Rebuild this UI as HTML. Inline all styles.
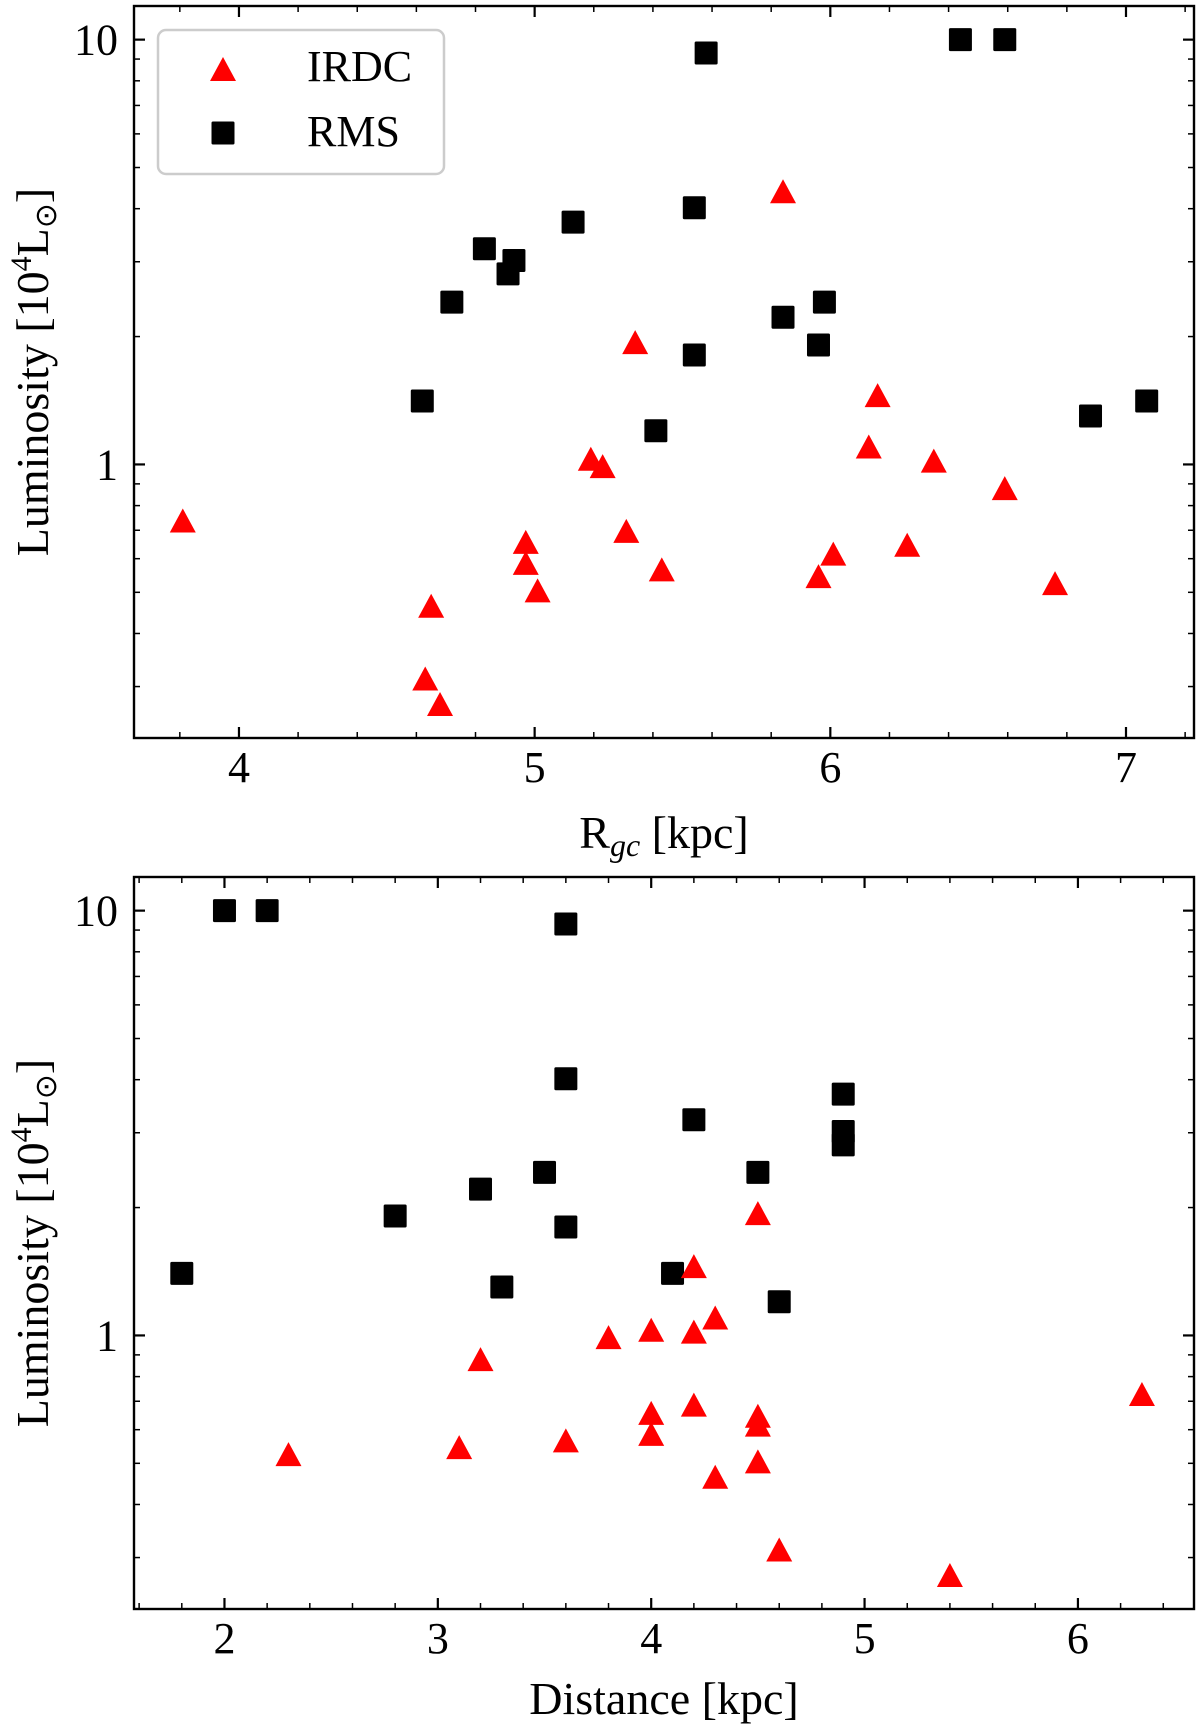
<!DOCTYPE html>
<html><head><meta charset="utf-8">
<style>
html,body{margin:0;padding:0;background:#fff;}
svg{display:block;font-family:"Liberation Serif",serif;}
</style></head>
<body>
<svg id="fig" width="1200" height="1735" viewBox="0 0 1200 1735" xmlns="http://www.w3.org/2000/svg"></svg>
<script>
// ---- data: top panel (Rgc) ----
const irdcRgc = [3.81,4.65,4.63,4.68,4.97,4.97,5.01,5.19,5.23,5.31,5.34,5.43,5.84,5.96,6.01,6.13,6.16,6.26,6.35,6.59,6.76];
const irdcLumTop = [0.73,0.46,0.31,0.27,0.65,0.58,0.50,1.02,0.98,0.69,1.92,0.56,4.35,0.54,0.61,1.09,1.44,0.64,1.01,0.87,0.52];
const rmsRgc = [4.62,4.72,4.83,4.91,4.93,5.13,5.41,5.54,5.54,5.58,5.84,5.96,5.98,6.44,6.59,6.88,7.07];
const rmsLumTop = [1.41,2.41,3.22,2.81,3.02,3.72,1.20,4.02,1.81,9.3,2.22,1.91,2.41,10,10,1.30,1.41];
// ---- data: bottom panel (Distance) ----
const irdcDist = [2.3,3.1,3.2,3.6,3.8,4.0,4.0,4.0,4.2,4.2,4.2,4.3,4.3,4.5,4.5,4.5,4.5,4.6,5.4,6.3];
const irdcLumBot = [0.52,0.54,0.87,0.56,0.98,1.02,0.65,0.58,1.01,0.68,1.44,1.09,0.46,1.92,0.64,0.61,0.50,0.31,0.27,0.72];
const rmsDist = [1.8,2.0,2.2,2.8,3.2,3.3,3.5,3.6,3.6,3.6,4.1,4.2,4.5,4.6,4.9,4.9,4.9];
const rmsLumBot = [1.40,10,10,1.91,2.21,1.30,2.42,9.3,4.02,1.80,1.40,3.22,2.42,1.20,3.70,3.02,2.81];
const xTicksTop = [4,5,6,7];
const xTicksBot = [2,3,4,5,6];
const yTickLabels = ["1","10"];
const yTickVals = [1,10];

const NS="http://www.w3.org/2000/svg";
const svg=document.getElementById('fig');
function mk(tag,attrs,parent){const e=document.createElementNS(NS,tag);for(const k in attrs)e.setAttribute(k,attrs[k]);(parent||svg).appendChild(e);return e;}

function panel(cfg){
  const L=134,R=1194,T=cfg.top,B=cfg.bottom;
  const g=mk('g',{});
  
  
  const ymin=Math.log10(0.227),ymax=Math.log10(12.0);
  const sx=v=>L+(v-cfg.xmin)/(cfg.xmax-cfg.xmin)*(R-L);
  const sy=v=>B-(Math.log10(v)-ymin)/(ymax-ymin)*(B-T);
  for(let v=Math.ceil(cfg.xmin*5)/5; v<=cfg.xmax+1e-9; v+=0.2){
    const x=sx(v); const major=Math.abs(v-Math.round(v))<1e-6;
    const len=major?11:6;
    const t1=mk('line',{x1:x,x2:x,y1:B,y2:B-len,stroke:'#000','stroke-width':major?2.2:1.5},g);
    
    
    const t2=mk('line',{x1:x,x2:x,y1:T,y2:T+len,stroke:'#000','stroke-width':major?2.2:1.5},g);
    
    
  }
  cfg.xticks.forEach(v=>{
    const t=mk('text',{x:sx(v),y:B+44,'font-size':44,'text-anchor':'middle'},g);
    t.textContent=v;
    
    
  });
  [0.3,0.4,0.5,0.6,0.7,0.8,0.9,1,2,3,4,5,6,7,8,9,10].forEach(v=>{
    const y=sy(v); const major=(v===1||v===10); const len=major?11:6;
    const a=mk('line',{x1:L,x2:L+len,y1:y,y2:y,stroke:'#000','stroke-width':major?2.2:1.5},g);
    
    
    const b=mk('line',{x1:R,x2:R-len,y1:y,y2:y,stroke:'#000','stroke-width':major?2.2:1.5},g);
    
    
  });
  yTickVals.forEach((v,i)=>{
    const t=mk('text',{x:118,y:sy(v)+15,'font-size':44,'text-anchor':'end'},g);
    t.textContent=yTickLabels[i];
    
    
  });
  cfg.rx.forEach((v,i)=>{
    const x=sx(v),y=sy(cfg.ry[i]);
    const r=mk('rect',{x:x-11.5,y:y-11.5,width:23,height:23,fill:'#000',rx:1.5},g);
    
    
  });
  cfg.ix.forEach((v,i)=>{
    const x=sx(v),y=sy(cfg.iy[i]);
    const p=mk('polygon',{points:`${x},${y-14} ${x+13},${y+10} ${x-13},${y+10}`,fill:'#ff0000'},g);
    
    
  });
  const fr=mk('rect',{x:L,y:T,width:R-L,height:B-T,fill:'none',stroke:'#000','stroke-width':2.4},g);
  
  
  const cy=(T+B)/2;
  const yl=mk('text',{x:0,y:0,'font-size':46,'text-anchor':'middle',transform:`translate(48,${cy}) rotate(-90)`},g);
  yl.innerHTML='Luminosity [10<tspan font-size="30" dy="-17">4</tspan><tspan dy="17">L</tspan><tspan font-size="30" dy="8">⊙</tspan><tspan dy="-8">]</tspan>';
  
  
  const xl=mk('text',{x:(L+R)/2,y:cfg.xlabY,'font-size':46,'text-anchor':'middle'},g);
  xl.innerHTML=cfg.xlabel;
  
  
}

panel({name:'top-panel',top:6,bottom:738,xmin:3.645,xmax:7.23,xticks:xTicksTop,
  ix:irdcRgc,iy:irdcLumTop,rx:rmsRgc,ry:rmsLumTop,xlabY:848,
  xlabel:'R<tspan font-size="32" font-style="italic" dy="8">gc</tspan><tspan dy="-8"> [kpc]</tspan>'});
panel({name:'bottom-panel',top:877,bottom:1609,xmin:1.576,xmax:6.544,xticks:xTicksBot,
  ix:irdcDist,iy:irdcLumBot,rx:rmsDist,ry:rmsLumBot,xlabY:1714,
  xlabel:'Distance [kpc]'});

const lg=mk('g',{});


const lb=mk('rect',{x:158,y:30,width:286,height:144,rx:8,fill:'#fff','fill-opacity':0.85,stroke:'#cccccc','stroke-width':2.5},lg);


const lt=mk('polygon',{points:'223,57 236,81 210,81',fill:'#ff0000'},lg);


const ls=mk('rect',{x:211.5,y:121.5,width:23,height:23,fill:'#000',rx:1.5},lg);


const t1=mk('text',{x:307,y:81,'font-size':44},lg);t1.textContent='IRDC';


const t2=mk('text',{x:307,y:146,'font-size':44},lg);t2.textContent='RMS';


</script>
</body></html>
